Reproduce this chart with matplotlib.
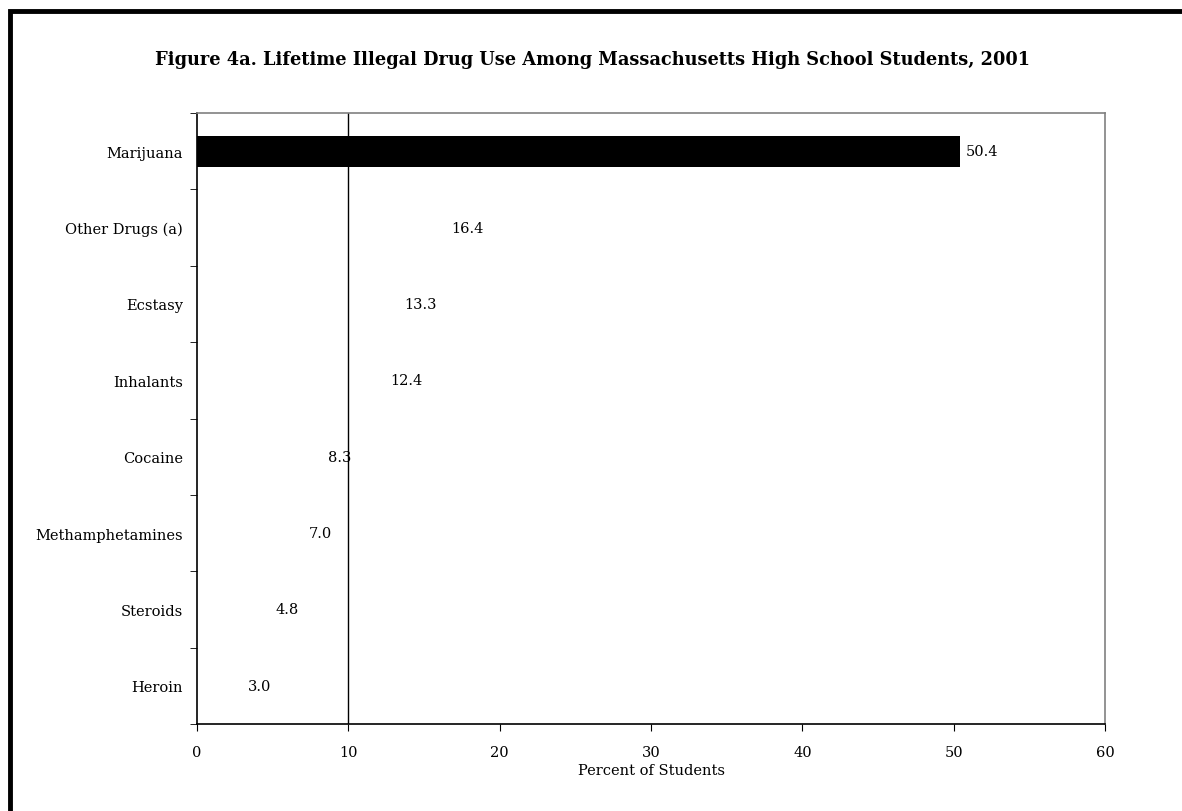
import matplotlib
matplotlib.use('Agg')
import matplotlib.pyplot as plt
from matplotlib.patches import Rectangle

# data
drugs = ['Marijuana', 'Other Drugs (a)', 'Ecstasy', 'Inhalants', 'Cocaine',
         'Methamphetamines', 'Steroids', 'Heroin']
percent = [50.4, 16.4, 13.3, 12.4, 8.3, 7.0, 4.8, 3.0]
bar_colors = ['black', 'none', 'none', 'none', 'none', 'none', 'none', 'none']
x_ticks = [0, 10, 20, 30, 40, 50, 60]

plt.rcParams['font.family'] = ['DejaVu Serif']

fig = plt.figure(figsize=(11.82, 8.12), dpi=100)
ax = fig.add_axes([0.1667, 0.1071, 0.7682, 0.7525])

ypos = list(range(len(drugs)))[::-1]
ax.barh(ypos, percent, height=0.41, color=bar_colors, zorder=3)

# value labels
for y, v in zip(ypos, percent):
    ax.annotate(f'{v:.1f}', xy=(v, y), xytext=(4, 0), textcoords='offset points',
                va='center', ha='left', fontsize=10.5, zorder=4)

# vertical reference line at 10
ax.axvline(10, color='black', linewidth=1.0, zorder=2)

ax.set_xlim(0, 60)
ax.set_ylim(-0.5, len(drugs) - 0.5)
ax.set_xticks(x_ticks)
ax.set_xticklabels([str(t) for t in x_ticks], fontsize=10.5)
ax.set_yticks(ypos)
ax.set_yticklabels(drugs, fontsize=10.5)
ax.tick_params(axis='y', length=0, pad=10)
ax.tick_params(axis='x', length=5, direction='out', pad=10)

# y ticks at the category boundaries
ax.set_yticks([i - 0.5 for i in range(len(drugs) + 1)], minor=True)
ax.tick_params(axis='y', which='minor', length=5, direction='out')

ax.set_xlabel('Percent of Students', fontsize=10.5, labelpad=3)

for side in ['top', 'right']:
    ax.spines[side].set_color('#808080')
    ax.spines[side].set_linewidth(1.2)
for side in ['left', 'bottom']:
    ax.spines[side].set_color('black')
    ax.spines[side].set_linewidth(1.2)

fig.text(0.501, 0.926, 'Figure 4a. Lifetime Illegal Drug Use Among Massachusetts High School Students, 2001',
         ha='center', va='center', fontsize=12.8, fontweight='bold')

# outer frame, cut off at right and bottom
fig.patches.append(Rectangle((10 / 1182, -0.1), 1.2, (812 - 11.5) / 812 + 0.1,
                             transform=fig.transFigure, fill=False,
                             edgecolor='black', linewidth=3.5))

fig.savefig('out.png', dpi=100)
